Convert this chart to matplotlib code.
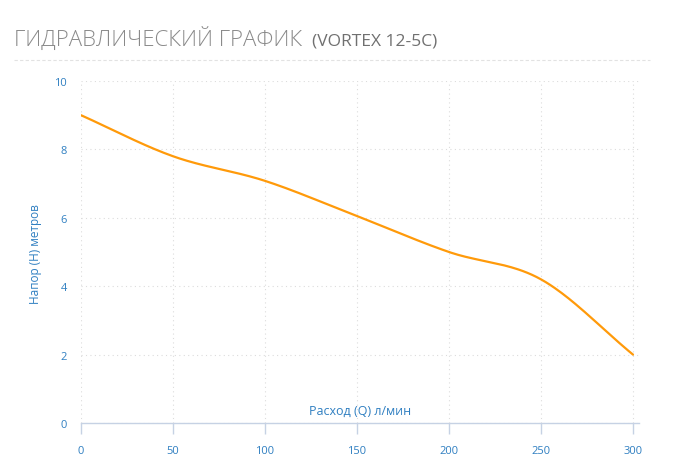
import matplotlib
matplotlib.use("Agg")
import matplotlib.pyplot as plt
import numpy as np
from matplotlib.lines import Line2D

# Q (л/мин) vs H (м)
flow = [0, 50, 100, 150, 200, 250, 300]
head = [9.0, 7.8, 7.08, 6.05, 5.0, 4.2, 2.0]
x_ticks = [0, 50, 100, 150, 200, 250, 300]
y_ticks = [0, 2, 4, 6, 8, 10]

BLUE = "#2f7fc1"
ORANGE = "#ff9a0a"

plt.rcParams["font.family"] = ["Open Sans", "DejaVu Sans"]


def spline(xs, ys, n=40):
    """Cubic Hermite through the points (Catmull-Rom style tangents)."""
    xs = np.asarray(xs, float)
    ys = np.asarray(ys, float)
    m = np.zeros_like(ys)
    m[1:-1] = (ys[2:] - ys[:-2]) / (xs[2:] - xs[:-2])
    m[0] = (ys[1] - ys[0]) / (xs[1] - xs[0])
    m[-1] = (ys[-1] - ys[-2]) / (xs[-1] - xs[-2])
    out_x, out_y = [], []
    for i in range(len(xs) - 1):
        h = xs[i + 1] - xs[i]
        t = np.linspace(0, 1, n, endpoint=False)
        h00 = 2 * t**3 - 3 * t**2 + 1
        h10 = t**3 - 2 * t**2 + t
        h01 = -2 * t**3 + 3 * t**2
        h11 = t**3 - t**2
        out_x.extend(xs[i] + t * h)
        out_y.extend(h00 * ys[i] + h10 * h * m[i] + h01 * ys[i + 1] + h11 * h * m[i + 1])
    out_x.append(xs[-1])
    out_y.append(ys[-1])
    return np.array(out_x), np.array(out_y)


W, H = 686, 477
fig = plt.figure(figsize=(W / 100, H / 100), dpi=100)

# axes box in pixels
left, right, top, bottom = 81, 639, 82, 424
ax = fig.add_axes([left / W, 1 - bottom / H, (right - left) / W, (bottom - top) / H])

sx, sy = spline(flow, head)
ax.plot(sx, sy, color=ORANGE, lw=1.6, solid_capstyle="round", zorder=3)

ax.set_xlim(0, 300 + 6 / 1.84)
ax.set_ylim(0, 10)
ax.set_xticks(x_ticks)
ax.set_yticks(y_ticks)

for s in ["top", "right", "left"]:
    ax.spines[s].set_visible(False)
ax.spines["bottom"].set_color("#c6d2e4")
ax.spines["bottom"].set_linewidth(1.0)

ax.grid(True, color="#dcdcdc", linestyle=(0, (1, 3)), linewidth=0.8)
ax.set_axisbelow(True)
ax.tick_params(axis="x", colors="#c6d2e4", length=8, width=1.0, pad=8,
               labelcolor=BLUE, labelsize=8)
ax.tick_params(axis="y", length=0, pad=10, labelcolor=BLUE, labelsize=8)

ax.text(0.5, 0.038, "Расход (Q) л/мин", transform=ax.transAxes, ha="center",
        va="center", color=BLUE, fontsize=9)
fig.text(36 / W, 1 - 254 / H, "Напор (H) метров", rotation=90, ha="center",
         va="center", color=BLUE, fontsize=8.5)

# header
t1 = fig.text(14 / W, 1 - 46 / H, "ГИДРАВЛИЧЕСКИЙ ГРАФИК", ha="left", va="baseline",
              color="#8a8a8a", fontsize=16, fontweight="light")
fig.canvas.draw()
bb = t1.get_window_extent()
fig.text((bb.x1 + 10) / W, 1 - 46 / H, "(VORTEX 12-5C)", ha="left", va="baseline",
         color="#707070", fontsize=12.5)
fig.add_artist(Line2D([14 / W, 650 / W], [1 - 61 / H, 1 - 61 / H],
                      transform=fig.transFigure, color="#e2e2e2",
                      linestyle=(0, (3, 2)), linewidth=0.8))

fig.savefig("out.png", dpi=100)
